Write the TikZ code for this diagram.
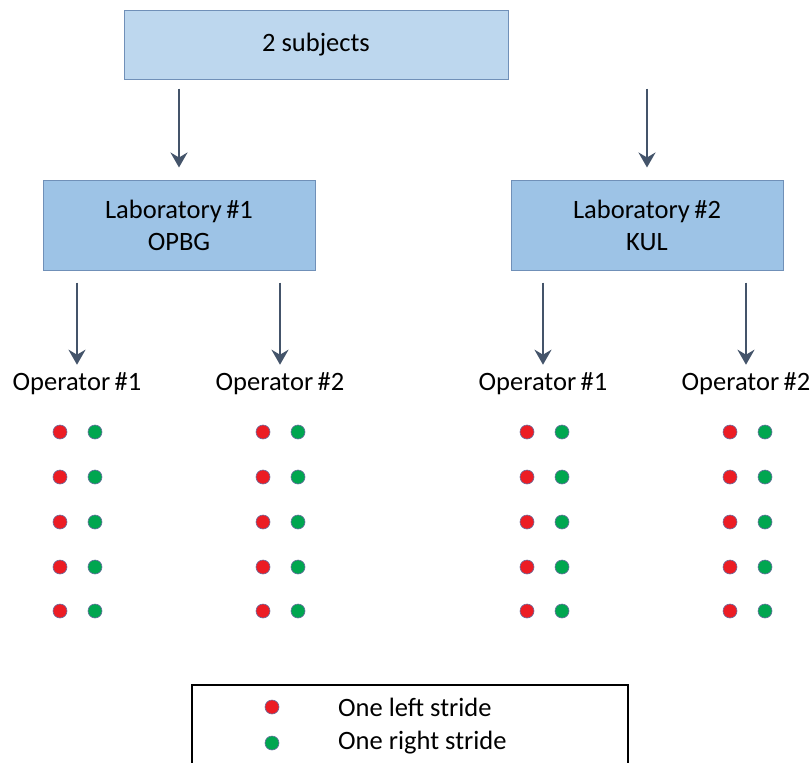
\documentclass[tikz,border=0pt]{standalone}
\usepackage{fontspec}
\setmainfont{Carlito}
\usetikzlibrary{arrows.meta}
\definecolor{subjfill}{HTML}{BDD7EE}
\definecolor{labfill}{HTML}{9DC3E6}
\definecolor{boxline}{HTML}{7090B8}
\definecolor{arrowcol}{HTML}{44546A}
\definecolor{leftcol}{HTML}{EC1C24}
\definecolor{rightcol}{HTML}{00A650}
\definecolor{dotline}{HTML}{6A6FA0}

\begin{document}
\begin{tikzpicture}[
            x = 1pt, y = -1pt,
            every node/.style = {font = \fontsize{26.5}{30}\selectfont, inner sep = 0pt},
            subjbox/.style = {draw = boxline, fill = subjfill, line width = 1pt,
                              minimum width = 384pt, minimum height = 69pt},
            labbox/.style = {draw = boxline, fill = labfill, line width = 1pt,
                             minimum width = 272pt, minimum height = 90pt, align = center},
            flow/.style = {draw = arrowcol, line width = 2.8pt,
                           -{Stealth[length = 15pt, width = 17pt, inset = 5pt]}},
            stride/.style = {circle, draw = dotline, line width = 0.6pt, minimum size = 14pt},
            lstride/.style = {stride, fill = leftcol},
            rstride/.style = {stride, fill = rightcol}
            ]
            \useasboundingbox (0,0) rectangle (812,763);

            % boxes
            \node[subjbox] (subj) at (316,44.5) {2 subjects};
            \node[labbox] (lab1) at (179,225) {Laboratory\,\#1\\[2pt]OPBG};
            \node[labbox] (lab2) at (647,225) {Laboratory\,\#2\\[2pt]KUL};

            % operators
            \node (op11) at (77,384) {Operator\,\#1};
            \node (op12) at (280,384) {Operator\,\#2};
            \node (op21) at (543,384) {Operator\,\#1};
            \node (op22) at (746,384) {Operator\,\#2};

            % arrows
            \draw[flow, shorten < = 9pt, shorten > = 12pt] (subj.south -| lab1.north) -- (lab1.north);
            \draw[flow, shorten < = 9pt, shorten > = 12pt] (subj.south -| lab2.north) -- (lab2.north);
            \foreach \lab/\op in {lab1/op11, lab1/op12, lab2/op21, lab2/op22}
                \draw[flow, shorten < = 12pt, shorten > = 8pt] (\lab.south -| \op.north) -- (\op.north);

            % strides
            \foreach \op/\x in {op11/60, op12/263, op21/527, op22/730}
                \foreach \i/\y in {1/432, 2/477, 3/522, 4/567, 5/611}
                {
                    \node[lstride] (\op-l\i) at (\x,\y) {};
                    \node[rstride] (\op-r\i) at (\x+35,\y) {};
                }

            % legend
            \draw[line width = 1.8pt] (192,685) rectangle (628,780);
            \node[lstride] (legl) at (272,707) {};
            \node[rstride] (legr) at (272,743) {};
            \node[anchor = west] (legltext) at (338,707) {One left stride};
            \node[anchor = west] (legrtext) at (338,743) {One right stride};
          \end{tikzpicture}
\end{document}
